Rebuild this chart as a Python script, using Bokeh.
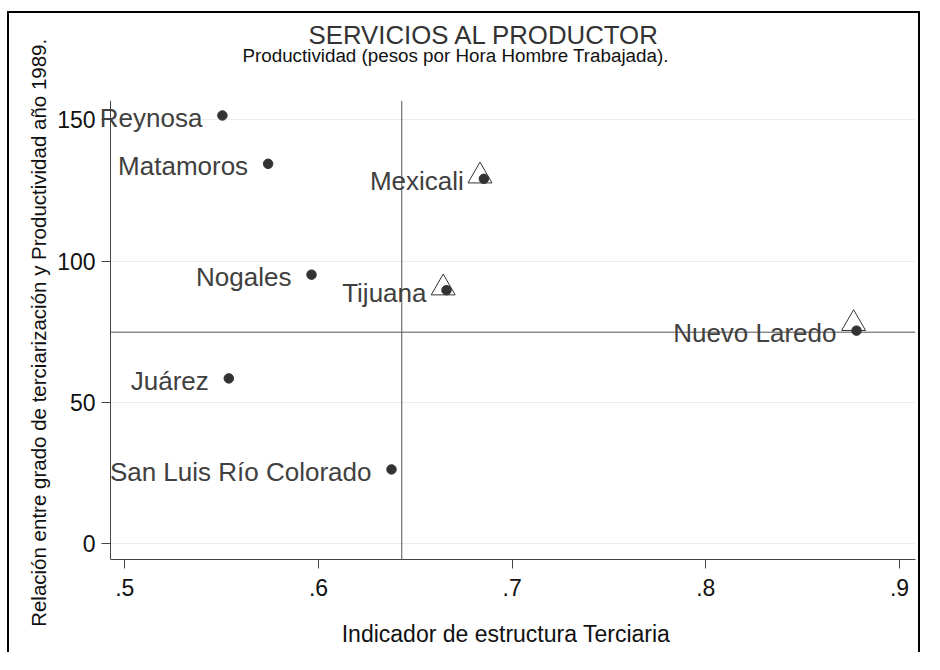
from bokeh.plotting import figure
from bokeh.models import (Range1d, FixedTicker, Span, Title, LabelSet,
                          ColumnDataSource, LinearAxis)
from bokeh.core.properties import value
from bokeh.embed import file_html
from bokeh.resources import INLINE

# ---- data ----
cities = ["Reynosa", "Matamoros", "Nogales", "Tijuana", "Mexicali",
          "Nuevo Laredo", "Juárez", "San Luis Río Colorado"]
terciaria = [0.5504, 0.5740, 0.5964, 0.6661, 0.6854, 0.8778, 0.5537, 0.6377]
productividad = [151.5, 134.4, 95.2, 89.7, 129.1, 75.4, 58.5, 26.3]

tri_cities = ["Tijuana", "Mexicali", "Nuevo Laredo"]
tri_terciaria = [0.6644, 0.6834, 0.8763]
tri_productividad = [90.5, 130.1, 77.9]

x_ticks = [0.5, 0.6, 0.7, 0.8, 0.9]
x_tick_labels = [".5", ".6", ".7", ".8", ".9"]
y_ticks = [0, 50, 100, 150]

x_axis_lo, x_axis_hi = 0.49262, 0.90826   # extent of the x axis
y_axis_lo, y_axis_hi = -5.55, 156.8       # extent of the y axis

x_ref = 0.643
y_ref = 74.85

title_text = "SERVICIOS AL PRODUCTOR"
subtitle_text = "Productividad  (pesos por Hora Hombre Trabajada)."
x_label = "Indicador de estructura Terciaria"
y_label = "Relación entre grado de terciarización y Productividad  año 1989."

FONT = "Liberation Sans"
AXIS_COLOR = "#444444"

# the frame extends a little left of the y axis line so that the point labels
# (e.g. "Reynosa") can overhang the axis as in the original
p = figure(width=913, height=641, output_backend="svg", toolbar_location=None,
           x_range=Range1d(0.48539, x_axis_hi), y_range=Range1d(y_axis_lo, y_axis_hi),
           min_border_left=87, min_border_right=7, min_border_top=87,
           min_border_bottom=95, background_fill_color="white",
           border_fill_color="white",
           styles={"border-left": "2px solid #000000",
                   "border-top": "2px solid #000000",
                   "border-right": "2px solid #000000"})
p.margin = (11, 0, 0, 7)
p.outline_line_color = None

# titles: spacer nearest the frame, then subtitle, then main title
p.title.visible = False
p.add_layout(Title(text=" ", text_font=FONT, text_font_size="10px", standoff=22), "above")
p.add_layout(Title(text=subtitle_text, text_font=FONT, text_font_size="18.8px",
                   text_font_style="normal", text_color="#111111",
                   align="left", offset=146, standoff=0,
                   vertical_align="bottom"), "above")
p.add_layout(Title(text=title_text, text_font=FONT, text_font_size="25.8px",
                   text_font_style="normal", text_color="#333333",
                   align="left", offset=212, standoff=-13,
                   vertical_align="bottom"), "above")

# grid
p.xgrid.grid_line_color = None
grid = p.ygrid[0]
grid.ticker = FixedTicker(ticks=y_ticks)
grid.grid_line_color = "#ececec"
grid.grid_line_width = 1
if "cross_bounds" in grid.properties():
    grid.cross_bounds = (x_axis_lo, x_axis_hi)

# x axis
xa = p.xaxis[0]
xa.ticker = FixedTicker(ticks=x_ticks)
xa.major_label_overrides = {t: l for t, l in zip(x_ticks, x_tick_labels)}
xa.bounds = (x_axis_lo, x_axis_hi)
xa.axis_line_color = AXIS_COLOR
xa.major_tick_line_color = AXIS_COLOR
xa.major_tick_out = 9
xa.major_tick_in = 0
xa.minor_tick_line_color = None
xa.major_label_text_font = FONT
xa.major_label_text_font_size = "23px"
xa.major_label_text_color = "#111111"
xa.major_label_standoff = 10
xa.axis_label = x_label
xa.axis_label_text_font = FONT
xa.axis_label_text_font_style = "normal"
xa.axis_label_text_font_size = "23px"
xa.axis_label_text_color = "#111111"
xa.axis_label_standoff = 22

# y axis: labels and title (at the panel edge)
ya = p.yaxis[0]
ya.ticker = FixedTicker(ticks=y_ticks)
ya.axis_line_color = None
ya.major_tick_line_color = None
ya.major_tick_out = 0
ya.major_tick_in = 0
ya.minor_tick_line_color = None
ya.major_label_text_font = FONT
ya.major_label_text_font_size = "23px"
ya.major_label_text_color = "#111111"
ya.major_label_standoff = 1
ya.major_label_orientation = "horizontal"
ya.axis_label = y_label
ya.axis_label_text_font = FONT
ya.axis_label_text_font_style = "normal"
ya.axis_label_text_font_size = "20.5px"
ya.axis_label_text_color = "#111111"
ya.axis_label_standoff = 4

# y axis: line and ticks at the start of the x axis (labels not drawn)
ya_line = LinearAxis(ticker=FixedTicker(ticks=y_ticks), fixed_location=x_axis_lo,
                     axis_line_color=AXIS_COLOR, major_tick_line_color=AXIS_COLOR,
                     major_tick_out=9, major_tick_in=0, minor_tick_line_color=None,
                     major_label_text_font_size="10px", major_label_text_color=None,
                     major_label_standoff=0)
p.add_layout(ya_line, "left")

# reference lines
p.add_layout(Span(location=x_ref, dimension="height", line_color="#555555", line_width=1))
p.segment(x0=[x_axis_lo], y0=[y_ref], x1=[x_axis_hi], y1=[y_ref],
          line_color="#555555", line_width=1)

# series
tri_src = ColumnDataSource(dict(x=tri_terciaria, y=tri_productividad, name=tri_cities))
src = ColumnDataSource(dict(x=terciaria, y=productividad, name=cities))

p.scatter("x", "y", source=tri_src, marker="triangle", size=24,
          fill_color=None, line_color="#333333", line_width=1)
p.scatter("x", "y", source=src, marker="circle", size=9.5,
          fill_color="#333333", line_color="#333333")
p.add_layout(LabelSet(x="x", y="y", text="name", source=src,
                      text_font=value(FONT), text_font_size=value("26px"),
                      text_color="#404040", text_align="right",
                      text_baseline="middle", x_offset=-20, y_offset=-2.5))

open("out.html", "w").write(file_html(p, INLINE))
